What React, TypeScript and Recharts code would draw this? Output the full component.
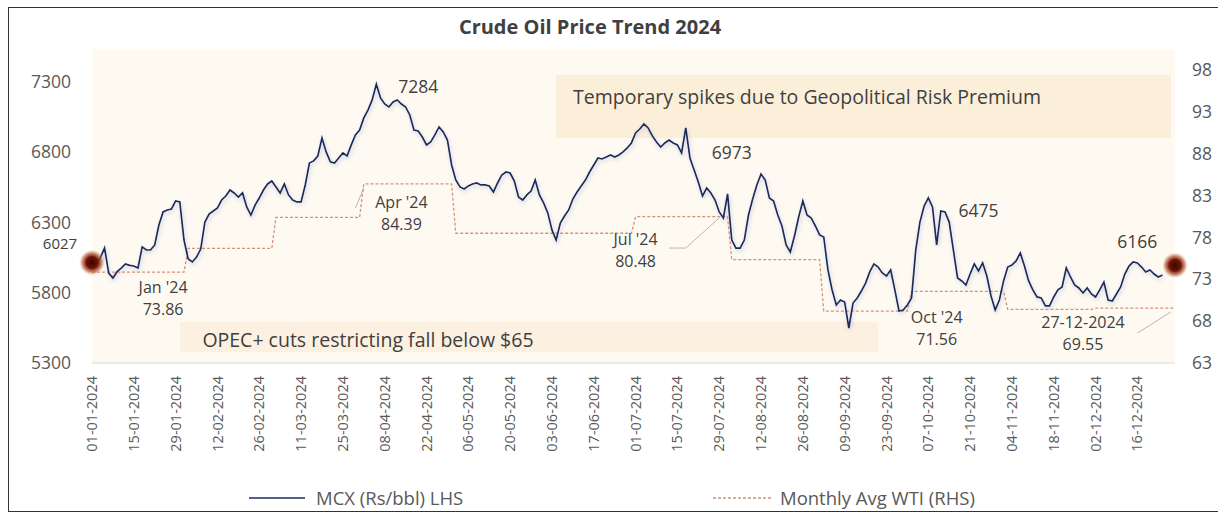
import React from 'react';
import { LineChart, Line, XAxis, YAxis, ReferenceArea, ReferenceDot, ReferenceLine } from 'recharts';

// ---------- data ----------
const TITLE = 'Crude Oil Price Trend 2024';
const START_DATE = '2024-01-01';
const END_DATE = '2024-12-27';

// MCX crude (Rs/bbl), one value per weekday from 01-01-2024
const MCX_VALUES = [
  6027, 6000, 6050, 6118, 5940, 5905, 5950, 5975, 6005, 5995,
  5990, 5976, 6126, 6104, 6104, 6140, 6282, 6375, 6389, 6396,
  6453, 6446, 6175, 6040, 6019, 6054, 6111, 6303, 6360, 6382,
  6403, 6460, 6488, 6531, 6510, 6481, 6510, 6410, 6353, 6424,
  6474, 6531, 6574, 6595, 6553, 6510, 6574, 6496, 6460, 6446,
  6446, 6567, 6723, 6738, 6773, 6901, 6802, 6731, 6723, 6759,
  6795, 6773, 6852, 6923, 6958, 7044, 7100, 7172, 7284, 7186,
  7143, 7122, 7157, 7172, 7143, 7122, 7065, 6958, 6951, 6908,
  6852, 6873, 6923, 6980, 6944, 6887, 6709, 6602, 6553, 6538,
  6560, 6574, 6581, 6567, 6567, 6560, 6517, 6581, 6638, 6659,
  6652, 6595, 6481, 6460, 6496, 6524, 6602, 6496, 6439, 6368,
  6247, 6175, 6296, 6346, 6389, 6467, 6517, 6560, 6602, 6659,
  6709, 6759, 6752, 6766, 6780, 6766, 6780, 6802, 6830, 6866,
  6937, 6965, 7001, 6973, 6916, 6873, 6837, 6866, 6887, 6866,
  6852, 6795, 6973, 6759, 6673, 6588, 6488, 6545, 6510, 6460,
  6375, 6332, 6503, 6175, 6118, 6118, 6175, 6353, 6467, 6567,
  6645, 6602, 6474, 6453, 6353, 6275, 6140, 6090, 6204, 6339,
  6453, 6353, 6332, 6275, 6211, 6197, 5962, 5820, 5713, 5748,
  5734, 5549, 5727, 5763, 5812, 5869, 5948, 6005, 5983, 5941,
  5919, 5962, 5820, 5670, 5677, 5713, 5763, 6104, 6303, 6417,
  6475, 6410, 6140, 6382, 6375, 6303, 6104, 5905, 5884, 5855,
  5933, 6005, 5955, 6012, 5919, 5777, 5677, 5748, 5884, 5983,
  5997, 6026, 6083, 5990, 5884, 5820, 5770, 5763, 5706, 5706,
  5770, 5820, 5841, 5976, 5912, 5855, 5834, 5798, 5834, 5791,
  5770, 5820, 5876, 5748, 5741, 5791, 5841, 5933, 5990, 6019,
  6012, 5983, 5948, 5962, 5933, 5912, 5926,
];

// Monthly average WTI ($/bbl), Jan..Dec
const WTI_MONTHLY = [73.86, 76.7, 80.4, 84.39, 78.5, 78.5, 80.48, 75.35, 69.2, 71.56, 69.4, 69.55];

const LEFT_TICKS = [5300, 5800, 6300, 6800, 7300];
const RIGHT_TICKS = [63, 68, 73, 78, 83, 88, 93, 98];

const SERIES_NAMES = ['MCX (Rs/bbl) LHS', 'Monthly Avg WTI (RHS)'];
const SPIKE_TEXT = 'Temporary spikes due to Geopolitical Risk Premium';
const OPEC_TEXT = 'OPEC+ cuts restricting fall below $65';

// annotation texts anchored at (weekday index, MCX value)
const ANNOTATIONS = [
  { i: 0, v: 6147, lines: ['6027'], dx: -32, size: 15 },
  { i: 78, v: 7264, lines: ['7284'] },
  { i: 17, v: 5841, lines: ["Jan '24", '73.86'], size: 16 },
  { i: 74, v: 6446, lines: ["Apr '24", '84.39'], size: 16 },
  { i: 130, v: 6182, lines: ["Jul '24", '80.48'], size: 16 },
  { i: 153, v: 6795, lines: ['6973'] },
  { i: 212, v: 6382, lines: ['6475'] },
  { i: 202, v: 5627, lines: ["Oct '24", '71.56'], size: 16 },
  { i: 237, v: 5592, lines: ['27-12-2024', '69.55'], size: 16 },
  { i: 250, v: 6161, lines: ['6166'] },
];

// ---------- helpers ----------
function buildWeekdays(start: string, end: string) {
  const out: { label: string; month: number }[] = [];
  const d = new Date(start + 'T00:00:00Z');
  const e = new Date(end + 'T00:00:00Z');
  while (d.getTime() <= e.getTime()) {
    const wd = d.getUTCDay();
    if (wd !== 0 && wd !== 6) {
      const dd = String(d.getUTCDate()).padStart(2, '0');
      const mm = String(d.getUTCMonth() + 1).padStart(2, '0');
      out.push({ label: `${dd}-${mm}-${d.getUTCFullYear()}`, month: d.getUTCMonth() });
    }
    d.setUTCDate(d.getUTCDate() + 1);
  }
  return out;
}

const DAYS = buildWeekdays(START_DATE, END_DATE);
const DATA = DAYS.map((d, i) => ({
  date: d.label,
  mcx: i < MCX_VALUES.length ? MCX_VALUES[i] : null,
  wti: WTI_MONTHLY[d.month],
}));
const cat = (i: number) => DATA[Math.min(i, DATA.length - 1)].date;

const FONT = '"Open Sans", "Liberation Sans", sans-serif';
const TEXT_COLOR = '#404040';
const AXIS_COLOR = '#595959';

const XTick = (props: any) => {
  const { x, y, payload } = props;
  return (
    <text
      x={x}
      y={y}
      transform={`rotate(-90, ${x}, ${y})`}
      textAnchor="end"
      dy="0.35em"
      fontSize={14.5}
      fontFamily={FONT}
      fill={AXIS_COLOR}
    >
      {payload.value}
    </text>
  );
};

const makeTextShape = (lines: string[], dx = 0, size = 17.5) => (p: any) => (
  <g>
    {lines.map((l, k) => (
      <text
        key={k}
        x={p.cx + dx}
        y={p.cy + k * 22}
        dy="0.35em"
        textAnchor="middle"
        fontSize={size}
        fontFamily={FONT}
        fill={TEXT_COLOR}
      >
        {l}
      </text>
    ))}
  </g>
);

const glowDot = (p: any) => <circle cx={p.cx} cy={p.cy} r={13} fill="url(#dotGlow)" />;

export default function App() {
  return (
    <div
      style={{
        position: 'fixed',
        left: 8,
        top: 7,
        width: 1210,
        height: 505,
        boxSizing: 'border-box',
        borderTop: '1.5px solid #333',
        borderLeft: '1.5px solid #333',
        borderBottom: '1.5px solid #333',
        background: '#fff',
        fontFamily: FONT,
      }}
    >
      <div
        style={{
          position: 'absolute',
          left: 331,
          width: 500,
          top: 6,
          textAlign: 'center',
          fontWeight: 700,
          fontSize: 20,
          color: TEXT_COLOR,
          lineHeight: '26px',
        }}
      >
        {TITLE}
      </div>
      <LineChart
        width={1209}
        height={503}
        data={DATA}
        margin={{ top: 62, right: 0, bottom: 48, left: 0 }}
      >
        <defs>
          <radialGradient id="dotGlow">
            <stop offset="0%" stopColor="#3a0500" />
            <stop offset="45%" stopColor="#6e1405" />
            <stop offset="75%" stopColor="#b0502a" stopOpacity={0.6} />
            <stop offset="100%" stopColor="#e8b090" stopOpacity={0} />
          </radialGradient>
          <filter id="lineGlow" x="-2%" y="-10%" width="104%" height="125%">
            <feGaussianBlur in="SourceAlpha" stdDeviation="2" result="b" />
            <feOffset in="b" dx="1" dy="2" result="o" />
            <feFlood floodColor="#8fa2cf" floodOpacity="0.55" />
            <feComposite in2="o" operator="in" result="s" />
            <feMerge>
              <feMergeNode in="s" />
              <feMergeNode in="SourceGraphic" />
            </feMerge>
          </filter>
        </defs>
        <XAxis
          dataKey="date"
          interval={9}
          height={100}
          tick={<XTick />}
          tickSize={0}
          tickMargin={13}
          axisLine={{ stroke: '#d9d9d9' }}
        />
        <YAxis
          yAxisId="left"
          domain={[5300, 7385]}
          ticks={LEFT_TICKS}
          width={83}
          tickSize={0}
          tickMargin={21}
          axisLine={false}
          tick={{ fontSize: 17.5, fill: AXIS_COLOR, fontFamily: FONT }}
          allowDataOverflow
        />
        <YAxis
          yAxisId="right"
          orientation="right"
          domain={[63, 98]}
          ticks={RIGHT_TICKS}
          width={43}
          tickSize={0}
          tickMargin={17}
          axisLine={false}
          tick={{ fontSize: 17.5, fill: AXIS_COLOR, fontFamily: FONT, textAnchor: 'start' }}
          allowDataOverflow
        />
        <ReferenceArea yAxisId="left" x1={cat(0)} x2={cat(DATA.length - 1)} y1={5300} y2={7530} ifOverflow="visible" fill="#fffaf1" fillOpacity={1} stroke="none" />
        <ReferenceArea yAxisId="left" x1={cat(111)} x2={cat(258)} y1={6901} y2={7350} fill="#fcefd9" fillOpacity={1} stroke="none" />
        <ReferenceArea yAxisId="left" x1={cat(21)} x2={cat(188)} y1={5378} y2={5592} fill="#fcf1e0" fillOpacity={1} stroke="none" />

        <ReferenceLine yAxisId="left" segment={[{ x: cat(63), y: 6403 }, { x: cat(65), y: 6545 }]} stroke="#b7b7b7" strokeWidth={1} />
        <ReferenceLine yAxisId="left" segment={[{ x: cat(138), y: 6118 }, { x: cat(142), y: 6118 }]} stroke="#b7b7b7" strokeWidth={1} />
        <ReferenceLine yAxisId="left" segment={[{ x: cat(142), y: 6118 }, { x: cat(150), y: 6332 }]} stroke="#b7b7b7" strokeWidth={1} />
        <ReferenceLine yAxisId="left" segment={[{ x: cat(250), y: 5513 }, { x: cat(258), y: 5663 }]} stroke="#b7b7b7" strokeWidth={1} />

        <Line
          yAxisId="right"
          type="linear"
          dataKey="wti"
          name={SERIES_NAMES[1]}
          stroke="#d2937a"
          strokeWidth={1.3}
          strokeDasharray="3 2"
          dot={false}
          isAnimationActive={false}
        />
        <Line
          yAxisId="left"
          type="linear"
          dataKey="mcx"
          name={SERIES_NAMES[0]}
          stroke="#1f2a5c"
          strokeWidth={1.7}
          dot={false}
          filter="url(#lineGlow)"
          isAnimationActive={false}
        />

        <ReferenceDot yAxisId="left" x={cat(171)} y={7193} shape={makeTextShape([SPIKE_TEXT], 0, 19.5)} />
        <ReferenceDot yAxisId="left" x={cat(66)} y={5464} shape={makeTextShape([OPEC_TEXT], 0, 19.5)} />
        {ANNOTATIONS.map((a, k) => (
          <ReferenceDot key={k} yAxisId="left" x={cat(a.i)} y={a.v} shape={makeTextShape(a.lines, a.dx || 0, a.size || 17.5)} />
        ))}
        <ReferenceDot yAxisId="left" x={cat(0)} y={6015} shape={glowDot} />
        <ReferenceDot yAxisId="left" x={cat(DATA.length - 1)} y={5995} shape={glowDot} />
      </LineChart>
      <div style={{ position: 'absolute', left: 240, top: 477, display: 'flex', alignItems: 'center', fontSize: 18.5, color: AXIS_COLOR }}>
        <svg width={56} height={22}>
          <line x1={0} y1={11} x2={56} y2={11} stroke="#1f2a5c" strokeWidth={1.6} />
        </svg>
        <span style={{ marginLeft: 11 }}>{SERIES_NAMES[0]}</span>
      </div>
      <div style={{ position: 'absolute', left: 704, top: 477, display: 'flex', alignItems: 'center', fontSize: 18.5, color: AXIS_COLOR }}>
        <svg width={60} height={22}>
          <line x1={0} y1={11} x2={60} y2={11} stroke="#d2937a" strokeWidth={1.3} strokeDasharray="3 2" />
        </svg>
        <span style={{ marginLeft: 7 }}>{SERIES_NAMES[1]}</span>
      </div>
    </div>
  );
}
